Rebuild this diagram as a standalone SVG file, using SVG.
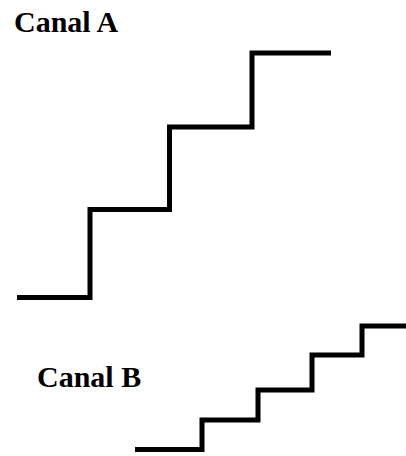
<svg xmlns="http://www.w3.org/2000/svg" width="406" height="456" viewBox="0 0 406 456">
  <style>
    .label { font-family: "Liberation Serif", "Times New Roman", serif; font-weight: bold; font-size: 30px; fill: #000; }
    .stair { fill: none; stroke: #000; stroke-width: 5; stroke-linejoin: miter; stroke-linecap: butt; }
  </style>
  <rect width="406" height="456" fill="#fff"/>
  <g id="canal-a">
    <text class="label" x="14" y="32">Canal A</text>
    <path class="stair" d="M17,297.5 H90 V209.5 H169.5 V127 H252 V53 H331"/>
  </g>
  <g id="canal-b">
    <text class="label" x="37" y="387">Canal B</text>
    <path class="stair" d="M135,449.5 H202 V420 H258 V390 H312 V355 H362 V326 H406"/>
  </g>
</svg>
